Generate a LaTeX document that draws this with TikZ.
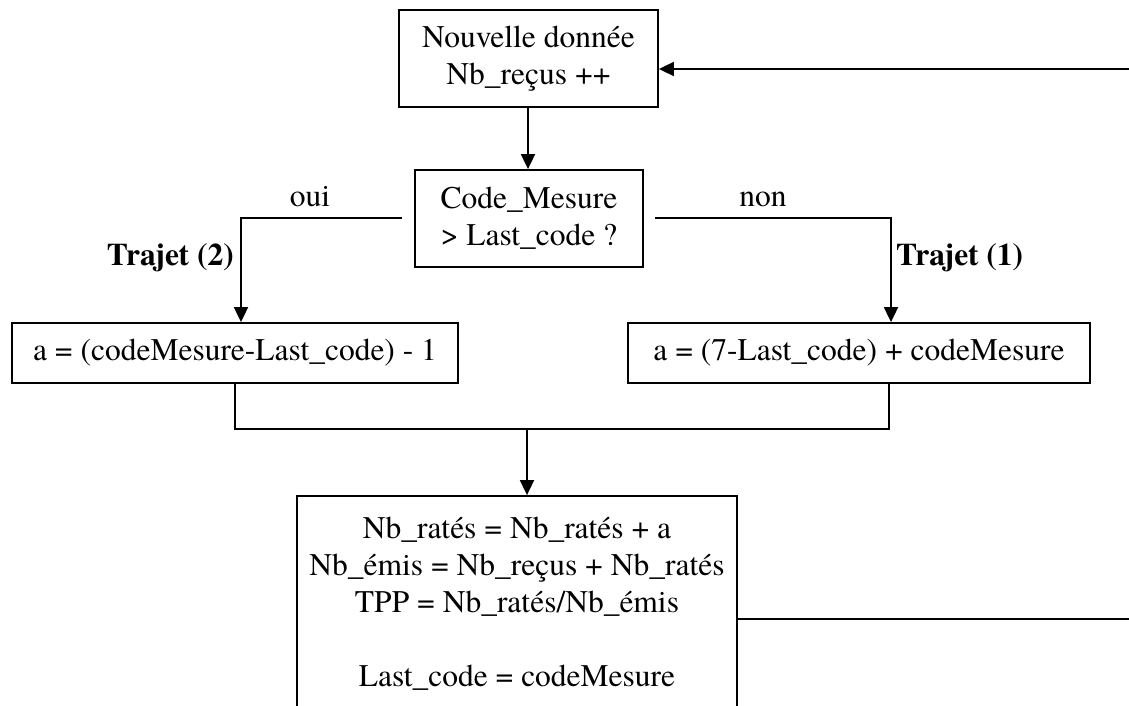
\documentclass[tikz,border=0pt]{standalone}
\usepackage{fontspec}
\setmainfont{texgyretermes}[Extension=.otf,UprightFont=*-regular,BoldFont=*-bold,ItalicFont=*-italic,BoldItalicFont=*-bolditalic]
\usetikzlibrary{arrows.meta,positioning}
\begin{document}
\begin{tikzpicture}[x=1pt,y=-1pt,
  box/.style={draw,line width=1.8pt,inner sep=0pt,align=center,font=\fontsize{31.5}{37}\selectfont},
  line/.style={line width=1.8pt},
  arr/.style={line width=1.8pt,-{Triangle[length=15pt,width=14pt]}},
  lbl/.style={font=\fontsize{31.5}{37}\selectfont,inner sep=0pt},
  blbl/.style={font=\fontsize{31.5}{37}\selectfont\bfseries,inner sep=0pt}]
\useasboundingbox (0,0) rectangle (1129,706);
\clip (0,0) rectangle (1129,706);
\node[box,minimum width=259pt,minimum height=97pt] (b1) at (528.5,58.5) {Nouvelle donnée\\Nb\_reçus ++};
\node[box,minimum width=228pt,minimum height=97pt] (b2) at (529,218.5) {Code\_Mesure\\> Last\_code ?};
\node[box,minimum width=446pt,minimum height=60pt] (b3) at (235,353) {a = (codeMesure-Last\_code) - 1};
\node[box,minimum width=462pt,minimum height=60pt] (b4) at (859,353) {a = (7-Last\_code) + codeMesure};
\node[box,minimum width=440pt,minimum height=216pt] (b5) at (517,604) {Nb\_ratés = Nb\_ratés + a\\Nb\_émis = Nb\_reçus + Nb\_ratés\\TPP = Nb\_ratés/Nb\_émis\\[37pt]Last\_code = codeMesure};
% coordinates
\coordinate (r1) at (1129,69);
\coordinate (r2) at (1129,619);
\coordinate (ouiS) at (402,218);
\coordinate (ouiC) at (241,218);
\coordinate (nonS) at (655,218);
\coordinate (nonC) at (891,218);
\coordinate (m3) at (235,429);
\coordinate (m4) at (889,429);
\coordinate (mA) at (527,429);
% connectors
\draw[arr] (r1) -- (r1 -| b1.east);
\draw[arr] (b1.south -| 528,0) -- (b2.north -| 528,0);
\draw[arr] (ouiS) -- (ouiC) -- (ouiC |- b3.north);
\draw[arr] (nonS) -- (nonC) -- (nonC |- b4.north);
\draw[line] (m3 |- b3.south) -- (m3) -- (m4) -- (m4 |- b4.south);
\draw[arr] (mA) -- (mA |- b5.north);
\draw[line] (r2 -| b5.east) -- (r2);
% labels
\node[lbl,anchor=base] at (310,206) {oui};
\node[lbl,anchor=base] at (763,206) {non};
\node[blbl,anchor=base east] at (234,265) {Trajet (2)};
\node[blbl,anchor=base west] at (896,265) {Trajet (1)};
\end{tikzpicture}
\end{document}
